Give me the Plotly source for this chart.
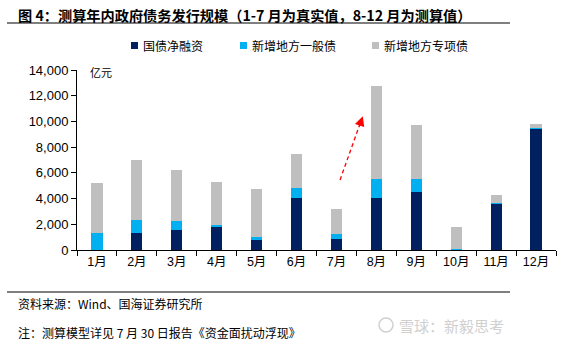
import plotly.graph_objects as go

months = ["1月", "2月", "3月", "4月", "5月", "6月", "7月", "8月", "9月", "10月", "11月", "12月"]
series_names = ["国债净融资", "新增地方一般债", "新增地方专项债"]
treasury = [0, 1300, 1550, 1800, 780, 4040, 830, 4050, 4550, 0, 3620, 9420]
local_general = [1350, 1050, 670, 170, 200, 750, 390, 1450, 950, 40, 60, 70]
local_special = [3850, 4650, 4020, 3320, 3790, 2650, 1990, 7250, 4250, 1720, 570, 330]
colors = ["#002060", "#00B0F0", "#BFBFBF"]

yticks = [0, 2000, 4000, 6000, 8000, 10000, 12000, 14000]

W, H = 588, 353
L, R, T, B = 77, 556, 70, 250


def xp(px):
    return (px - L) / (R - L)


def yp(py):
    return (B - py) / (B - T)


fig = go.Figure()
for name, vals, c in zip(series_names, [treasury, local_general, local_special], colors):
    fig.add_trace(go.Bar(x=months, y=vals, name=name, marker=dict(color=c, line=dict(width=0)),
                         showlegend=False))

fig.update_layout(
    barmode="stack",
    bargap=0.72,
    width=W, height=H,
    margin=dict(l=L, r=W - R, t=T, b=H - B, pad=0),
    paper_bgcolor="white", plot_bgcolor="white",
    font=dict(family="Liberation Sans, Arial, Noto Sans CJK SC", size=13, color="black"),
)
fig.update_xaxes(
    type="category", range=[-0.5, 11.5],
    showline=True, linecolor="black", linewidth=1,
    ticks="outside", tickson="boundaries", ticklen=5, tickcolor="black",
    showgrid=False, zeroline=False,
    tickfont=dict(family="Liberation Sans, Noto Sans CJK SC", size=12.5, color="black"),
)
fig.update_yaxes(
    range=[0, 14000], tickvals=yticks, tickformat=",",
    showline=True, linecolor="black", linewidth=1,
    ticks="outside", ticklen=5, tickcolor="black",
    showgrid=False, zeroline=False,
    tickfont=dict(family="Liberation Sans, Arial", size=13, color="black"),
)

ann = []
shapes = []

# Title
ann.append(dict(text="<b>图 4：测算年内政府债务发行规模（1-7 月为真实值，8-12 月为测算值）</b>",
                xref="paper", yref="paper", x=xp(16), y=yp(15), xanchor="left", yanchor="middle",
                showarrow=False, font=dict(family="Noto Sans CJK SC", size=14.2, color="black")))
shapes.append(dict(type="line", xref="paper", yref="paper", x0=xp(7), x1=xp(510), y0=yp(23), y1=yp(23),
                   line=dict(color="black", width=1.2)))

# Legend (custom)
leg_x = [131, 240, 372]
for lx, name, c in zip(leg_x, series_names, colors):
    shapes.append(dict(type="rect", xref="paper", yref="paper", x0=xp(lx), x1=xp(lx + 7),
                       y0=yp(49), y1=yp(42), fillcolor=c, line=dict(width=0)))
    ann.append(dict(text=name, xref="paper", yref="paper", x=xp(lx + 10), y=yp(45.5),
                    xanchor="left", yanchor="middle", showarrow=False,
                    font=dict(family="Noto Sans CJK SC", size=12, color="black")))

# unit
ann.append(dict(text="亿元", xref="paper", yref="paper", x=xp(88), y=yp(72), xanchor="left",
                yanchor="middle", showarrow=False,
                font=dict(family="Noto Sans CJK SC", size=11, color="black")))

# Red dashed arrow
shapes.append(dict(type="line", xref="x", yref="y", x0=6.09, y0=5450, x1=6.6, y1=9900,
                   line=dict(color="#FF0000", width=1.3, dash="4px,3px")))
ann.append(dict(text="", xref="x", yref="y", axref="x", ayref="y", x=6.66, y=10400,
                ax=6.56, ay=9500, showarrow=True, arrowhead=2, arrowsize=1.3, arrowwidth=1.5,
                arrowcolor="#FF0000"))

# Bottom rule and notes
shapes.append(dict(type="line", xref="paper", yref="paper", x0=xp(7), x1=xp(510), y0=yp(292), y1=yp(292),
                   line=dict(color="black", width=1.2)))
ann.append(dict(text="资料来源：Wind、国海证券研究所", xref="paper", yref="paper", x=xp(16), y=yp(303),
                xanchor="left", yanchor="middle", showarrow=False,
                font=dict(family="Noto Sans CJK SC", size=12, color="black")))
ann.append(dict(text="注：测算模型详见 7 月 30 日报告《资金面扰动浮现》", xref="paper", yref="paper",
                x=xp(16), y=yp(332), xanchor="left", yanchor="middle", showarrow=False,
                font=dict(family="Noto Sans CJK SC", size=12, color="black")))
# watermark
shapes.append(dict(type="circle", xref="paper", yref="paper", x0=xp(379), x1=xp(393), y0=yp(332), y1=yp(318),
                   line=dict(color="#D0D0D0", width=1.5)))
ann.append(dict(text="雪球：新毅思考", xref="paper", yref="paper", x=xp(397), y=yp(325),
                xanchor="left", yanchor="middle", showarrow=False,
                font=dict(family="Noto Sans CJK SC", size=15, color="#D0D0D0")))

fig.update_layout(annotations=ann, shapes=shapes)
fig.write_html("out.html")
